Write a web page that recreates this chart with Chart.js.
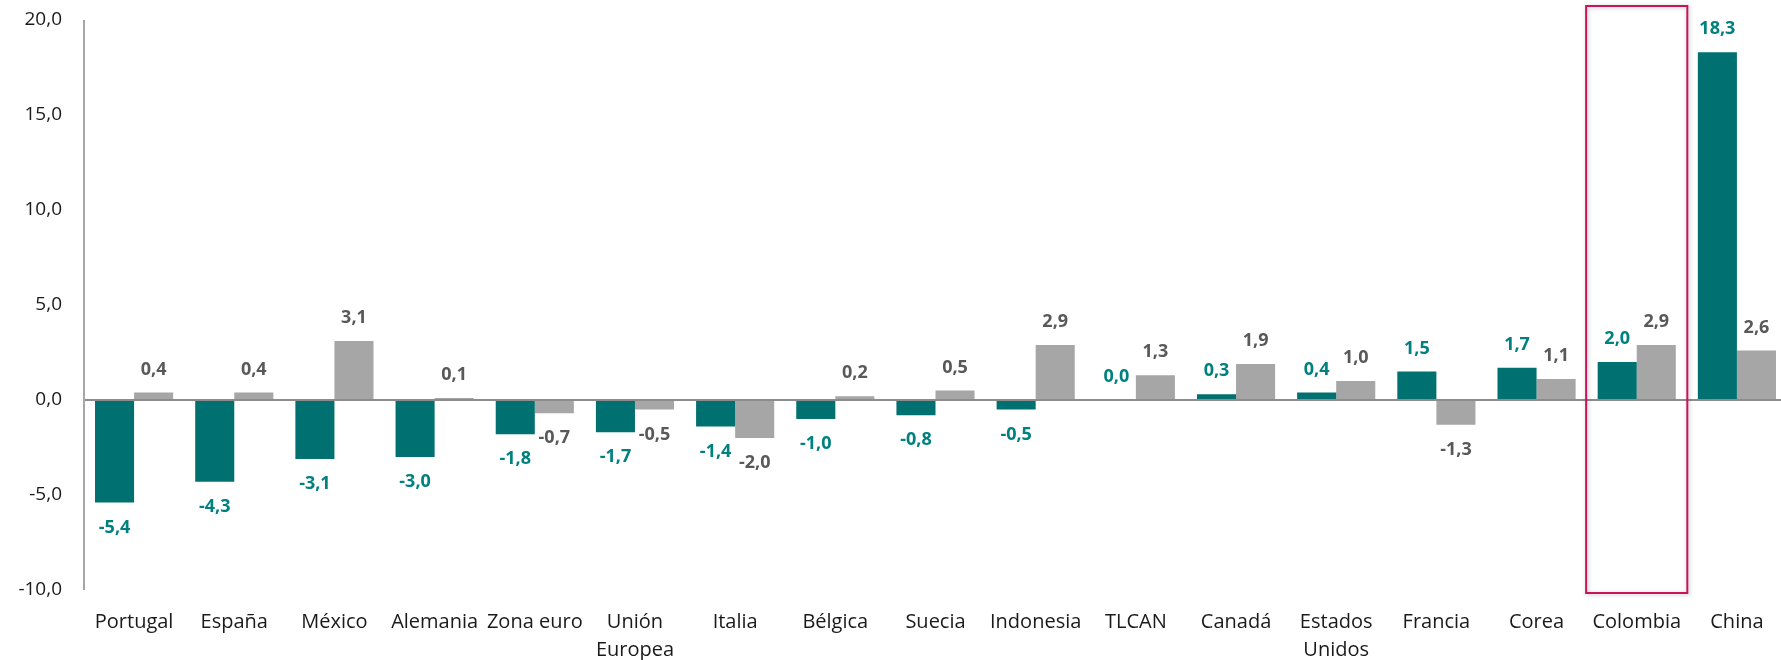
<!DOCTYPE html>
<html>
<head>
<meta charset="utf-8">
<script src="https://cdn.jsdelivr.net/npm/chart.js@4"></script>
<style>
  html, body { margin: 0; padding: 0; background: #fff; overflow: hidden; }
  #wrap { width: 1787px; height: 660px; }
</style>
</head>
<body>
<div id="wrap"><canvas id="chart"></canvas></div>
<script>
const categories = [
  "Portugal", "España", "México", "Alemania", "Zona euro", ["Unión", "Europea"],
  "Italia", "Bélgica", "Suecia", "Indonesia", "TLCAN", "Canadá",
  ["Estados", "Unidos"], "Francia", "Corea", "Colombia", "China"
];
const seriesA = [-5.4, -4.3, -3.1, -3.0, -1.8, -1.7, -1.4, -1.0, -0.8, -0.5, 0.0, 0.3, 0.4, 1.5, 1.7, 2.0, 18.3];
const seriesB = [0.4, 0.4, 3.1, 0.1, -0.7, -0.5, -2.0, 0.2, 0.5, 2.9, 1.3, 1.9, 1.0, -1.3, 1.1, 2.9, 2.6];
const yTicks = [-10, -5, 0, 5, 10, 15, 20];
const highlightIndex = 15; // Colombia

const FONT = "'Open Sans', 'Noto Sans', sans-serif";
const fmt = (v) => v.toFixed(1).replace(".", ",");

// value labels above / below each bar
const valueLabels = {
  id: "valueLabels",
  afterDatasetsDraw(chart) {
    const ctx = chart.ctx;
    ctx.save();
    ctx.font = "bold 18px " + FONT;
    ctx.textAlign = "center";
    ctx.textBaseline = "middle";
    chart.data.datasets.forEach((ds, di) => {
      const meta = chart.getDatasetMeta(di);
      ctx.fillStyle = ds.labelColor;
      meta.data.forEach((bar, i) => {
        const v = ds.data[i];
        const y = v >= 0 ? bar.y - 23 : bar.y + 25;
        ctx.fillText(fmt(v), bar.x, y);
      });
    });
    ctx.restore();
  }
};

// zero line + left axis line
const axisLines = {
  id: "axisLines",
  afterDatasetsDraw(chart) {
    const { ctx, chartArea, scales } = chart;
    const y0 = Math.round(scales.y.getPixelForValue(0));
    ctx.save();
    ctx.strokeStyle = "#8c8c8c";
    ctx.lineWidth = 2;
    ctx.beginPath();
    ctx.moveTo(chartArea.left, y0);
    ctx.lineTo(chartArea.right, y0);
    ctx.stroke();
    ctx.strokeStyle = "#a6a6a6";
    ctx.beginPath();
    ctx.moveTo(chartArea.left, chartArea.top);
    ctx.lineTo(chartArea.left, chartArea.bottom);
    ctx.stroke();
    ctx.restore();
  }
};

// highlight box around Colombia
const highlightBox = {
  id: "highlightBox",
  afterDraw(chart) {
    const { ctx, chartArea, scales } = chart;
    const cx = scales.x.getPixelForValue(highlightIndex);
    const w = (chartArea.right - chartArea.left) / categories.length;
    const left = cx - w * 0.505, right = cx + w * 0.505;
    const top = chartArea.top - 14, bottom = chartArea.bottom + 3;
    ctx.save();
    ctx.shadowColor = "rgba(0,0,0,0.25)";
    ctx.shadowBlur = 4;
    ctx.shadowOffsetX = 1;
    ctx.shadowOffsetY = 1;
    ctx.strokeStyle = "#c8125a";
    ctx.lineWidth = 2;
    ctx.strokeRect(left, top, right - left, bottom - top);
    ctx.restore();
  }
};

new Chart(document.getElementById("chart"), {
  type: "bar",
  data: {
    labels: categories,
    datasets: [
      { data: seriesA, backgroundColor: "#007070", labelColor: "#00807f" },
      { data: seriesB, backgroundColor: "#a6a6a6", labelColor: "#595959" }
    ]
  },
  options: {
    responsive: true,
    maintainAspectRatio: false,
    animation: false,
    categoryPercentage: 0.78,
    barPercentage: 1.0,
    layout: { padding: { top: 20, right: 0, left: 0, bottom: 0 } },
    plugins: { legend: { display: false }, tooltip: { enabled: false } },
    scales: {
      x: {
        grid: { display: false, drawTicks: false },
        border: { display: false },
        ticks: {
          color: "#1a1a1a",
          font: { family: FONT, size: 20, lineHeight: 1.4 },
          padding: 18,
          maxRotation: 0,
          autoSkip: false
        },
        afterFit: (s) => { s.height = 70; }
      },
      y: {
        min: -10,
        max: 20,
        grid: { display: false, drawTicks: false },
        border: { display: false },
        afterBuildTicks: (s) => { s.ticks = yTicks.map((v) => ({ value: v })); },
        ticks: {
          color: "#1a1a1a",
          font: { family: FONT, size: 19 },
          padding: 22,
          callback: (v) => fmt(v)
        },
        afterFit: (s) => {
          s.width = 84;
          s.paddingTop = 0;
          s.paddingBottom = 0;
        }
      }
    }
  },
  plugins: [axisLines, valueLabels, highlightBox]
});
</script>
</body>
</html>
